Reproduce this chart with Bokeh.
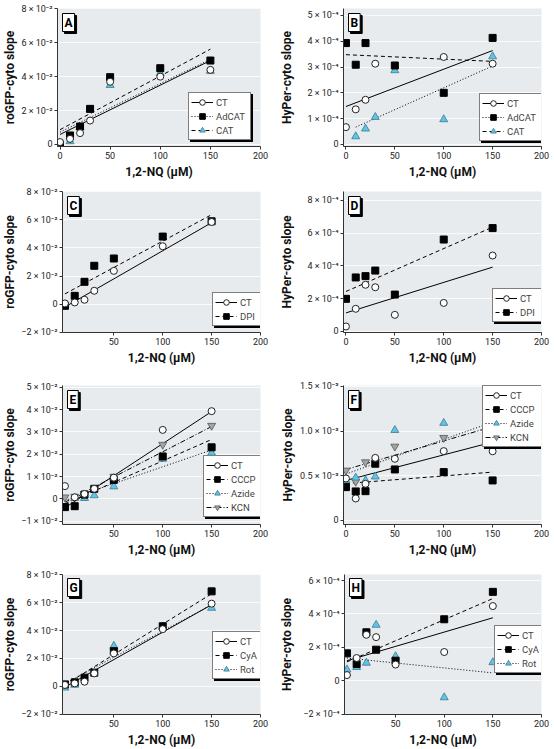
import numpy as np
from bokeh.plotting import figure
from bokeh.models import Range1d, FixedTicker, Legend, LegendItem, Label
from bokeh.layouts import column, row
from bokeh.embed import file_html
from bokeh.resources import INLINE

FONT = "Liberation Sans Narrow, Roboto, sans-serif"

# ---------------- data ----------------
# A: roGFP-cyto slope, units of 1e-2
a_x = [0, 10, 20, 30, 50, 100, 150]
a_ct = [0.14, 0.33, 0.67, 1.41, 3.70, 4.00, 4.40]
a_adcat = [0.0, 0.53, 1.06, 2.10, 3.97, 4.50, 4.95]
a_cat = [0.0, 0.18, 1.00, 2.05, 3.50, 4.20, 4.33]
a_fit_x = [0, 150]
a_fit_ct = [0.59, 4.95]
a_fit_adcat = [0.73, 5.02]
a_fit_cat = [0.87, 5.62]

# B: HyPer-cyto slope, units of 1e-4
b_ct_x = [0, 10, 20, 30, 100, 150]
b_ct = [0.67, 1.36, 1.73, 3.13, 3.39, 3.13]
b_adcat_x = [0, 10, 20, 50, 100, 150]
b_adcat = [3.93, 3.09, 3.93, 3.06, 2.00, 4.13]
b_cat_x = [10, 20, 30, 50, 100, 150]
b_cat = [0.31, 0.61, 1.06, 2.87, 0.97, 3.41]
b_fit_x = [0, 150]
b_fit_ct = [1.47, 3.64]
b_fit_adcat = [3.48, 3.22]
b_fit_cat_x = [10, 150]
b_fit_cat = [0.67, 3.04]

# C: roGFP-cyto slope, units of 1e-2
c_x = [0, 10, 20, 30, 50, 100, 150]
c_ct = [0.05, 0.12, 0.31, 0.95, 2.37, 4.12, 5.85]
c_dpi = [-0.12, 0.59, 1.59, 2.73, 3.25, 4.81, 5.90]
c_fit_x = [0, 150]
c_fit_ct = [-0.20, 5.80]
c_fit_dpi = [0.73, 6.37]

# D: HyPer-cyto slope, units of 1e-4
d_x = [0, 10, 20, 30, 50, 100, 150]
d_ct = [0.29, 1.37, 2.84, 2.69, 1.00, 1.73, 4.63]
d_dpi = [1.98, 3.29, 3.37, 3.71, 2.24, 5.61, 6.31]
d_fit_x = [0, 150]
d_fit_ct = [1.12, 3.92]
d_fit_dpi = [2.43, 6.37]

# E: roGFP-cyto slope, units of 1e-2
e_x = [0, 10, 20, 30, 50, 100, 150]
e_ct = [0.57, 0.07, 0.22, 0.45, 0.95, 3.09, 3.93]
e_cccp = [-0.37, -0.33, 0.19, 0.45, 0.85, 1.90, 2.31]
e_azide_x = [10, 20, 30, 50, 100, 150]
e_azide = [0.03, 0.03, 0.15, 0.55, 1.79, 2.06]
e_kcn = [0.07, 0.10, 0.22, 0.40, 1.00, 2.43, 3.28]
e_fit_x = [0, 150]
e_fit_ct = [-0.40, 3.91]
e_fit_cccp = [-0.22, 2.66]
e_fit_azide = [-0.07, 2.19]
e_fit_kcn = [-0.15, 3.24]

# F: HyPer-cyto slope, units of 1e-4
f_x = [0, 10, 20, 30, 50, 100, 150]
f_ct = [4.70, 2.46, 4.10, 7.00, 6.90, 7.76, 7.74]
f_cccp = [3.73, 3.25, 3.28, 6.35, 5.71, 5.41, 4.48]
f_azide = [4.48, 4.78, 4.48, 4.90, 10.10, 10.90, 9.18]
f_kcn_x = [0, 10, 20, 50, 100, 150]
f_kcn = [5.60, 4.35, 6.53, 8.28, 9.25, 10.26]
f_fit_x = [0, 150]
f_fit_ct = [4.48, 8.77]
f_fit_cccp = [4.13, 5.41]
f_fit_azide = [5.20, 11.00]
f_fit_kcn = [5.70, 10.50]

# G: roGFP-cyto slope, units of 1e-2
g_x = [0, 10, 20, 30, 50, 100, 150]
g_ct = [0.10, 0.21, 0.33, 0.93, 2.36, 4.10, 5.93]
g_cya = [0.14, 0.29, 0.62, 0.98, 2.52, 4.31, 6.81]
g_rot_x = [0, 10, 50, 100, 150]
g_rot = [-0.10, 0.10, 2.90, 4.26, 5.62]
g_fit_x = [0, 150]
g_fit_ct = [-0.05, 5.85]
g_fit_cya = [0.10, 6.64]
g_fit_rot = [0.20, 5.85]

# H: HyPer-cyto slope, units of 1e-4
h_x = [0, 10, 20, 30, 50, 100, 150]
h_ct = [0.34, 1.36, 2.75, 2.61, 0.97, 1.72, 4.47]
h_cya = [1.64, 1.00, 2.90, 1.86, 1.20, 3.68, 5.32]
h_rot = [0.67, 0.81, 1.07, 3.34, 1.46, -1.00, 1.10]
h_fit_x = [0, 150]
h_fit_ct = [1.20, 3.77]
h_fit_cya = [1.13, 4.92]
h_fit_rot = [1.36, 0.47]

# tick labels
ticks_e2_a = [0, 2, 4, 6, 8]
labels_e2_a = ["0", "2 × 10⁻²", "4 × 10⁻²", "6 × 10⁻²", "8 × 10⁻²"]
ticks_e2_c = [-2, 0, 2, 4, 6, 8]
labels_e2_c = ["−2 × 10⁻²", "0", "2 × 10⁻²", "4 × 10⁻²", "6 × 10⁻²", "8 × 10⁻²"]
ticks_e2_e = [-1, 0, 1, 2, 3, 4, 5]
labels_e2_e = ["−1 × 10⁻²", "0", "1 × 10⁻²", "2 × 10⁻²", "3 × 10⁻²", "4 × 10⁻²", "5 × 10⁻²"]
ticks_e4_b = [0, 1, 2, 3, 4, 5]
labels_e4_b = ["0", "1 × 10⁻⁴", "2 × 10⁻⁴", "3 × 10⁻⁴", "4 × 10⁻⁴", "5 × 10⁻⁴"]
ticks_e4_d = [0, 2, 4, 6, 8]
labels_e4_d = ["0", "2 × 10⁻⁴", "4 × 10⁻⁴", "6 × 10⁻⁴", "8 × 10⁻⁴"]
ticks_e4_f = [0, 5, 10, 15]
labels_e4_f = ["0", "0.5 × 10⁻³", "1.0 × 10⁻³", "1.5 × 10⁻³"]
ticks_e4_h = [-2, 0, 2, 4, 6]
labels_e4_h = ["−2 × 10⁻⁴", "0", "2 × 10⁻⁴", "4 × 10⁻⁴", "6 × 10⁻⁴"]
xticks_full = [0, 50, 100, 150, 200]
xticks_part = [50, 100, 150, 200]

# ---------------- styles ----------------
BG = "#e7ebee"
MK = {
    "circle": dict(marker="circle", size=7, fill_color="white", line_color="#222222", line_width=1),
    "square": dict(marker="square", size=7, fill_color="black", line_color="black", line_width=1),
    "tri": dict(marker="triangle", size=8, fill_color="#5ec5e6", line_color="#3d7890", line_width=0.8),
    "itri": dict(marker="inverted_triangle", size=8, fill_color="#a3a3a3", line_color="#555555", line_width=0.8),
}
DASH = {"solid": "solid", "dashed": "4 3", "dotted": "1 2", "dashdot": "5 2 1 2"}
NAN2 = np.array([np.nan, np.nan])

# legend geometry
LEG_PAD, LEG_GW, LEG_SO, LEG_ROW = 2, 22, 3, 14


def panel(letter, ylabel, yr, yt, yl, xt, series, leg, left_col, bt, fh, bb, ylab_sd):
    if left_col:
        bl, fw, br = 57, 203, 17
    else:
        bl, fw, br = 63, 201, 13
    h = bt + fh + bb
    p = figure(width=bl + fw + br, height=h, x_range=Range1d(-2.5, 200), y_range=Range1d(*yr),
               output_backend="svg", toolbar_location=None,
               min_border_left=bl, min_border_right=br, min_border_top=bt, min_border_bottom=bb)
    p.background_fill_color = BG
    p.border_fill_color = "white"
    p.outline_line_color = None
    p.xgrid.grid_line_color = None
    p.ygrid.grid_line_color = "white"
    p.ygrid.grid_line_alpha = 0.8
    p.ygrid.ticker = FixedTicker(ticks=yt)
    p.xaxis.ticker = FixedTicker(ticks=xt)
    p.yaxis.ticker = FixedTicker(ticks=yt)
    p.yaxis.major_label_overrides = {t: l for t, l in zip(yt, yl)}
    for ax in (p.xaxis[0], p.yaxis[0]):
        ax.axis_line_color = "#333333"
        ax.major_tick_line_color = "#333333"
        ax.major_tick_out = 3
        ax.major_tick_in = 0
        ax.minor_tick_line_color = None
        ax.major_label_text_font = FONT
        ax.major_label_text_font_size = "9px"
        ax.major_label_text_color = "#222222"
        ax.axis_label_text_font = FONT
        ax.axis_label_text_font_style = "bold"
        ax.axis_label_text_font_size = "12px"
        ax.axis_label_text_color = "#111111"
        ax.major_label_standoff = 2
    p.xaxis.axis_label = "1,2-NQ (µM)"
    p.xaxis.axis_label_standoff = 3
    p.yaxis.axis_label = ylabel
    p.yaxis.axis_label_standoff = ylab_sd

    for s in series:
        p.line(s["fx"], s["fy"], line_color="black", line_width=1, line_dash=DASH[s["dash"]])
    for s in reversed(series):
        p.scatter(s["x"], s["y"], **MK[s["mk"]])

    items, sh_items = [], []
    for s in series:
        rl = p.line(NAN2, NAN2, line_color="black", line_width=1, line_dash=DASH[s["ldash"]])
        rm = p.scatter(NAN2, NAN2, **MK[s["mk"]])
        items.append(LegendItem(label=s["name"], renderers=[rl, rm]))
        sh_items.append(LegendItem(label="", renderers=[rl, rm]))

    label_w, right_off, bottom_off = leg
    leg_w = 2 * LEG_PAD + LEG_GW + LEG_SO + label_w
    leg_h = 2 * LEG_PAD + LEG_ROW * len(series)
    if bottom_off is None:  # anchored at top
        ly = fh - 2 - leg_h
    else:
        ly = bottom_off
    lx = fw - right_off - leg_w
    common = dict(orientation="vertical", glyph_width=LEG_GW, glyph_height=LEG_ROW,
                  label_height=LEG_ROW, label_width=label_w, label_standoff=LEG_SO,
                  spacing=0, padding=LEG_PAD, margin=0,
                  label_text_font=FONT, label_text_font_size="9.5px",
                  label_text_baseline="middle", border_line_width=1)
    shadow = Legend(items=sh_items, location=(lx + 2, ly - 2),
                    background_fill_color="black", background_fill_alpha=1,
                    border_line_color="black", **common)
    front = Legend(items=items, location=(lx, ly), background_fill_color="white",
                   background_fill_alpha=1, border_line_color="black", **common)
    p.add_layout(shadow, "center")
    p.add_layout(front, "center")

    for dx, fill in ((2, "black"), (0, "white")):
        p.add_layout(Label(x=5 + dx, y=fh - 5 - dx, x_units="screen", y_units="screen", text=letter,
                           text_color="black", text_font=FONT, text_font_size="12px",
                           text_font_style="bold", text_align="left", text_baseline="top",
                           background_fill_color=fill, border_line_color="black",
                           padding=2))
    return p


def S(name, x, y, mk, fx, fy, dash, ldash=None):
    return dict(name=name, x=x, y=y, mk=mk, fx=fx, fy=fy, dash=dash, ldash=ldash or dash)


RO = "roGFP-cyto slope"
HY = "HyPer-cyto slope"
# row geometry: top border, frame height, bottom border
R1 = (8, 138, 37)
R2 = (8, 141, 38)
R3 = (15, 139, 35)
R4 = (15, 141, 34)

pa = panel("A", RO, (-0.12, 8.02), ticks_e2_a, labels_e2_a, xticks_full, [
    S("CT", a_x, a_ct, "circle", a_fit_x, a_fit_ct, "solid"),
    S("AdCAT", a_x, a_adcat, "square", a_fit_x, a_fit_adcat, "dotted"),
    S("CAT", a_x, a_cat, "tri", a_fit_x, a_fit_cat, "dashed"),
], (32, 11, 6), True, *R1, 1)

pb = panel("B", HY, (-0.08, 5.27), ticks_e4_b, labels_e4_b, xticks_full, [
    S("CT", b_ct_x, b_ct, "circle", b_fit_x, b_fit_ct, "solid"),
    S("AdCAT", b_adcat_x, b_adcat, "square", b_fit_x, b_fit_adcat, "dashed", "dotted"),
    S("CAT", b_cat_x, b_cat, "tri", b_fit_cat_x, b_fit_cat, "dotted", "dashed"),
], (32, 4, 5), False, *R1, 10)

pc = panel("C", RO, (-2.02, 8.02), ticks_e2_c, labels_e2_c, xticks_part, [
    S("CT", c_x, c_ct, "circle", c_fit_x, c_fit_ct, "solid"),
    S("DPI", c_x, c_dpi, "square", c_fit_x, c_fit_dpi, "dashed"),
], (19, 5, 6), True, *R2, 1)

pd_ = panel("D", HY, (-0.08, 8.55), ticks_e4_d, labels_e4_d, xticks_full, [
    S("CT", d_x, d_ct, "circle", d_fit_x, d_fit_ct, "solid"),
    S("DPI", d_x, d_dpi, "square", d_fit_x, d_fit_dpi, "dashed"),
], (19, 4, 10), False, *R2, 10)

pe = panel("E", RO, (-1.15, 5.08), ticks_e2_e, labels_e2_e, xticks_part, [
    S("CT", e_x, e_ct, "circle", e_fit_x, e_fit_ct, "solid"),
    S("CCCP", e_x, e_cccp, "square", e_fit_x, e_fit_cccp, "dashed"),
    S("Azide", e_azide_x, e_azide, "tri", e_fit_x, e_fit_azide, "dotted"),
    S("KCN", e_x, e_kcn, "itri", e_fit_x, e_fit_kcn, "dashdot"),
], (30, 3, 7), True, *R3, 1)

pf = panel("F", HY, (-0.45, 15.1), ticks_e4_f, labels_e4_f, xticks_full, [
    S("CT", f_x, f_ct, "circle", f_fit_x, f_fit_ct, "solid"),
    S("CCCP", f_x, f_cccp, "square", f_fit_x, f_fit_cccp, "dashed"),
    S("Azide", f_x, f_azide, "tri", f_fit_x, f_fit_azide, "dotted"),
    S("KCN", f_kcn_x, f_kcn, "itri", f_fit_x, f_fit_kcn, "dashdot"),
], (30, 3, None), False, *R3, 2)

pg = panel("G", RO, (-2.02, 8.02), ticks_e2_c, labels_e2_c, xticks_part, [
    S("CT", g_x, g_ct, "circle", g_fit_x, g_fit_ct, "solid"),
    S("CyA", g_x, g_cya, "square", g_fit_x, g_fit_cya, "dashed"),
    S("Rot", g_rot_x, g_rot, "tri", g_fit_x, g_fit_rot, "dotted"),
], (19, 5, 35), True, *R4, 1)

ph = panel("H", HY, (-2.02, 6.36), ticks_e4_h, labels_e4_h, xticks_part, [
    S("CT", h_x, h_ct, "circle", h_fit_x, h_fit_ct, "solid"),
    S("CyA", h_x, h_cya, "square", h_fit_x, h_fit_cya, "dashed"),
    S("Rot", h_x, h_rot, "tri", h_fit_x, h_fit_rot, "dotted"),
], (19, 3, 41), False, *R4, 6)

layout = column(row(pa, pb), row(pc, pd_), row(pe, pf), row(pg, ph))
open("out.html", "w").write(file_html(layout, INLINE))
